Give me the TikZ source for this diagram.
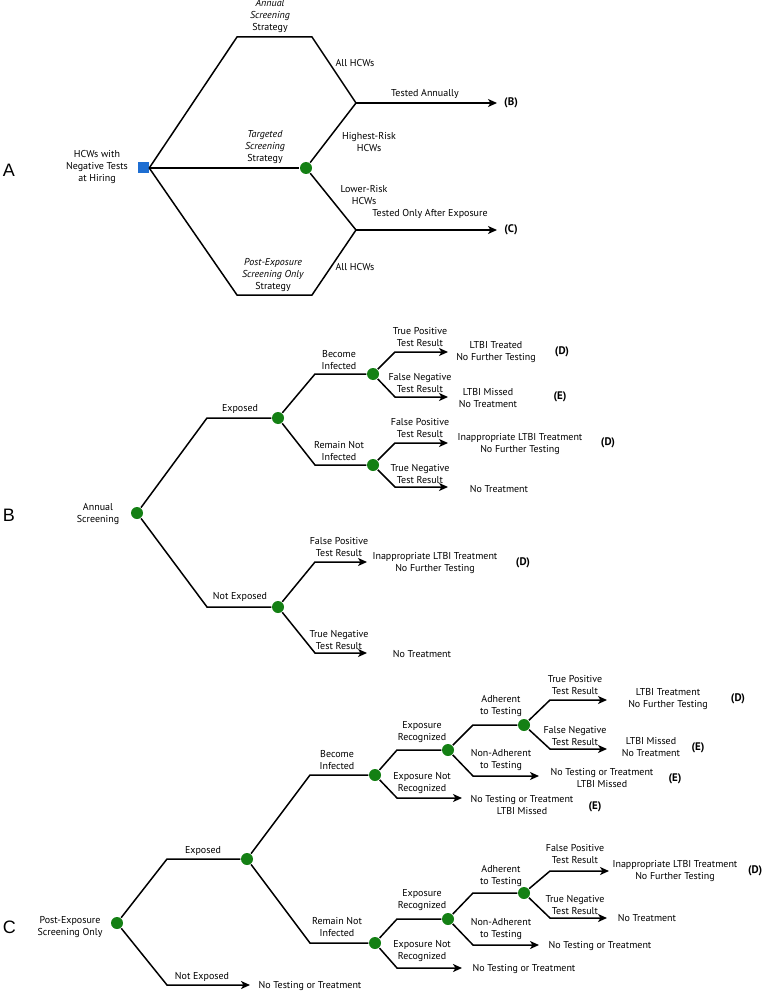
\documentclass[tikz,border=0pt]{standalone}
\usepackage{fontspec}
\setmainfont{PT Sans}
\newfontfamily\letterfont{Liberation Sans}
\usetikzlibrary{arrows.meta}
\definecolor{nodegreen}{RGB}{20,128,20}
\definecolor{nodeblue}{RGB}{30,110,210}

\begin{document}
\begin{tikzpicture}[x=1pt,y=-1pt,line width=1.5pt,
  dot/.style={circle,fill=nodegreen,minimum size=12pt,inner sep=0pt},
  sq/.style={rectangle,fill=nodeblue,minimum size=11pt,inner sep=0pt},
  lab/.style={align=center,inner sep=0pt,font=\fontsize{10}{12}\selectfont},
  res/.style={inner sep=0pt,font=\fontsize{11}{12}\selectfont\bfseries},
  part/.style={anchor=west,inner sep=0pt,font=\fontsize{18}{20}\letterfont},
  arr/.style={-{Stealth[length=9pt,width=8pt,inset=2.5pt]}}]
  \useasboundingbox (0,0) rectangle (764,992);

  % A
  \node[part] at (2,170) {A};
  \node[sq] (hire) at (143,168) {};
  \node[dot] (targ) at (306,168) {};
  \node[lab] at (97,167) {HCWs with\\Negative Tests\\at Hiring};
  \coordinate (a1) at (237,37);
  \coordinate (a2) at (312,37);
  \coordinate (aJ1) at (356,103);
  \coordinate (a3) at (237,295);
  \coordinate (a4) at (312,295);
  \coordinate (aJ2) at (356,230);
  \coordinate (aEnd1) at (497,103);
  \coordinate (aEnd2) at (497,230);
  \draw (hire.east) -- (a1) -- (a2) -- (aJ1);
  \draw (hire.east) -- (targ);
  \draw (hire.east) -- (a3) -- (a4) -- (aJ2);
  \draw (targ) -- (aJ1);
  \draw (targ) -- (aJ2);
  \draw[arr] (aJ1) -- (aEnd1);
  \draw[arr] (aJ2) -- (aEnd2);
  \node[lab] at (270,16) {\textit{Annual}\\\textit{Screening}\\Strategy};
  \node[lab] at (265,147) {\textit{Targeted}\\\textit{Screening}\\Strategy};
  \node[lab] at (273,275) {\textit{Post-Exposure}\\\textit{Screening Only}\\Strategy};
  \node[lab] at (355,63) {All HCWs};
  \node[lab] at (355,267) {All HCWs};
  \node[lab] at (369,142) {Highest-Risk\\HCWs};
  \node[lab] at (364,195) {Lower-Risk\\HCWs};
  \node[lab] at (425,94) {Tested Annually};
  \node[lab] at (430,214) {Tested Only After Exposure};
  \node[res] at (511,103) {(B)};
  \node[res] at (511,230) {(C)};

  % B
  \node[part] at (2,515) {B};
  \node[lab] at (98,514) {Annual\\Screening};
  \node[dot] (bRoot) at (137,513) {};
  \node[dot] (bExp) at (278,418) {};
  \node[dot] (bNot) at (278,607) {};
  \node[dot] (bInf) at (373,374) {};
  \node[dot] (bRem) at (373,465) {};
  \draw (bRoot) -- (207,418) -- (bExp);
  \draw (bRoot) -- (207,607) -- (bNot);
  \draw (bExp) -- (315,374) -- (bInf);
  \draw (bExp) -- (315,465) -- (bRem);
  \draw[arr] (bInf) -- (395,352) -- (448,352);
  \draw[arr] (bInf) -- (395,397) -- (448,397);
  \draw[arr] (bRem) -- (395,443) -- (448,443);
  \draw[arr] (bRem) -- (395,487) -- (448,487);
  \draw[arr] (bNot) -- (315,562) -- (367,562);
  \draw[arr] (bNot) -- (315,653) -- (367,653);
  \node[lab] at (240,409) {Exposed};
  \node[lab] at (240,597) {Not Exposed};
  \node[lab] at (339,360) {Become\\Infected};
  \node[lab] at (339,451) {Remain Not\\Infected};
  \node[lab] at (420,337) {True Positive\\Test Result};
  \node[lab] at (420,383) {False Negative\\Test Result};
  \node[lab] at (420,428) {False Positive\\Test Result};
  \node[lab] at (420,474) {True Negative\\Test Result};
  \node[lab] at (339,547) {False Positive\\Test Result};
  \node[lab] at (339,640) {True Negative\\Test Result};
  \node[lab] at (496,352) {LTBI Treated\\No Further Testing};
  \node[lab] at (488,398) {LTBI Missed\\No Treatment};
  \node[lab] at (520,444) {Inappropriate LTBI Treatment\\No Further Testing};
  \node[lab] at (499,489) {No Treatment};
  \node[lab] at (435,563) {Inappropriate LTBI Treatment\\No Further Testing};
  \node[lab] at (422,654) {No Treatment};
  \node[res] at (562,352) {(D)};
  \node[res] at (560,397) {(E)};
  \node[res] at (608,443) {(D)};
  \node[res] at (523,563) {(D)};

  % C
  \node[part] at (2,927) {C};
  \node[lab] at (70,927) {Post-Exposure\\Screening Only};
  \node[dot] (cRoot) at (117,923) {};
  \node[dot] (cExp) at (247,859) {};
  \node[dot] (cInf) at (375,775) {};
  \node[dot] (cRem) at (375,943) {};
  \node[dot] (cInfRec) at (448,750) {};
  \node[dot] (cInfAdh) at (524,725) {};
  \node[dot] (cRemRec) at (448,919) {};
  \node[dot] (cRemAdh) at (524,893) {};
  \draw (cRoot) -- (167,859) -- (cExp);
  \draw[arr] (cRoot) -- (167,985) -- (250,985);
  \draw (cExp) -- (310,775) -- (cInf);
  \draw (cExp) -- (310,943) -- (cRem);
  \draw (cInf) -- (397,750) -- (cInfRec);
  \draw[arr] (cInf) -- (397,798) -- (462,798);
  \draw (cInfRec) -- (473,725) -- (cInfAdh);
  \draw[arr] (cInfRec) -- (473,776) -- (539,776);
  \draw[arr] (cInfAdh) -- (550,700) -- (607,700);
  \draw[arr] (cInfAdh) -- (550,749) -- (607,749);
  \draw (cRem) -- (397,919) -- (cRemRec);
  \draw[arr] (cRem) -- (397,968) -- (462,968);
  \draw (cRemRec) -- (473,893) -- (cRemAdh);
  \draw[arr] (cRemRec) -- (473,945) -- (539,945);
  \draw[arr] (cRemAdh) -- (550,871) -- (609,871);
  \draw[arr] (cRemAdh) -- (550,918) -- (607,918);
  \node[lab] at (203,851) {Exposed};
  \node[lab] at (202,977) {Not Exposed};
  \node[lab] at (310,986) {No Testing or Treatment};
  \node[lab] at (337,760) {Become\\Infected};
  \node[lab] at (337,927) {Remain Not\\Infected};
  \node[lab] at (422,732) {Exposure\\Recognized};
  \node[lab] at (422,783) {Exposure Not\\Recognized};
  \node[lab] at (501,706) {Adherent\\to Testing};
  \node[lab] at (501,760) {Non-Adherent\\to Testing};
  \node[lab] at (575,685) {True Positive\\Test Result};
  \node[lab] at (575,736) {False Negative\\Test Result};
  \node[lab] at (668,699) {LTBI Treatment\\No Further Testing};
  \node[lab] at (651,747) {LTBI Missed\\No Treatment};
  \node[lab] at (602,778) {No Testing or Treatment\\LTBI Missed};
  \node[lab] at (522,805) {No Testing or Treatment\\LTBI Missed};
  \node[res] at (738,699) {(D)};
  \node[res] at (698,748) {(E)};
  \node[res] at (675,779) {(E)};
  \node[res] at (595,807) {(E)};
  \node[lab] at (422,900) {Exposure\\Recognized};
  \node[lab] at (422,951) {Exposure Not\\Recognized};
  \node[lab] at (501,876) {Adherent\\to Testing};
  \node[lab] at (501,929) {Non-Adherent\\to Testing};
  \node[lab] at (575,854) {False Positive\\Test Result};
  \node[lab] at (575,905) {True Negative\\Test Result};
  \node[lab] at (675,871) {Inappropriate LTBI Treatment\\No Further Testing};
  \node[lab] at (647,918) {No Treatment};
  \node[lab] at (524,969) {No Testing or Treatment};
  \node[lab] at (600,946) {No Testing or Treatment};
  \node[res,anchor=east] at (763,871) {(D)};
\end{tikzpicture}
\end{document}
